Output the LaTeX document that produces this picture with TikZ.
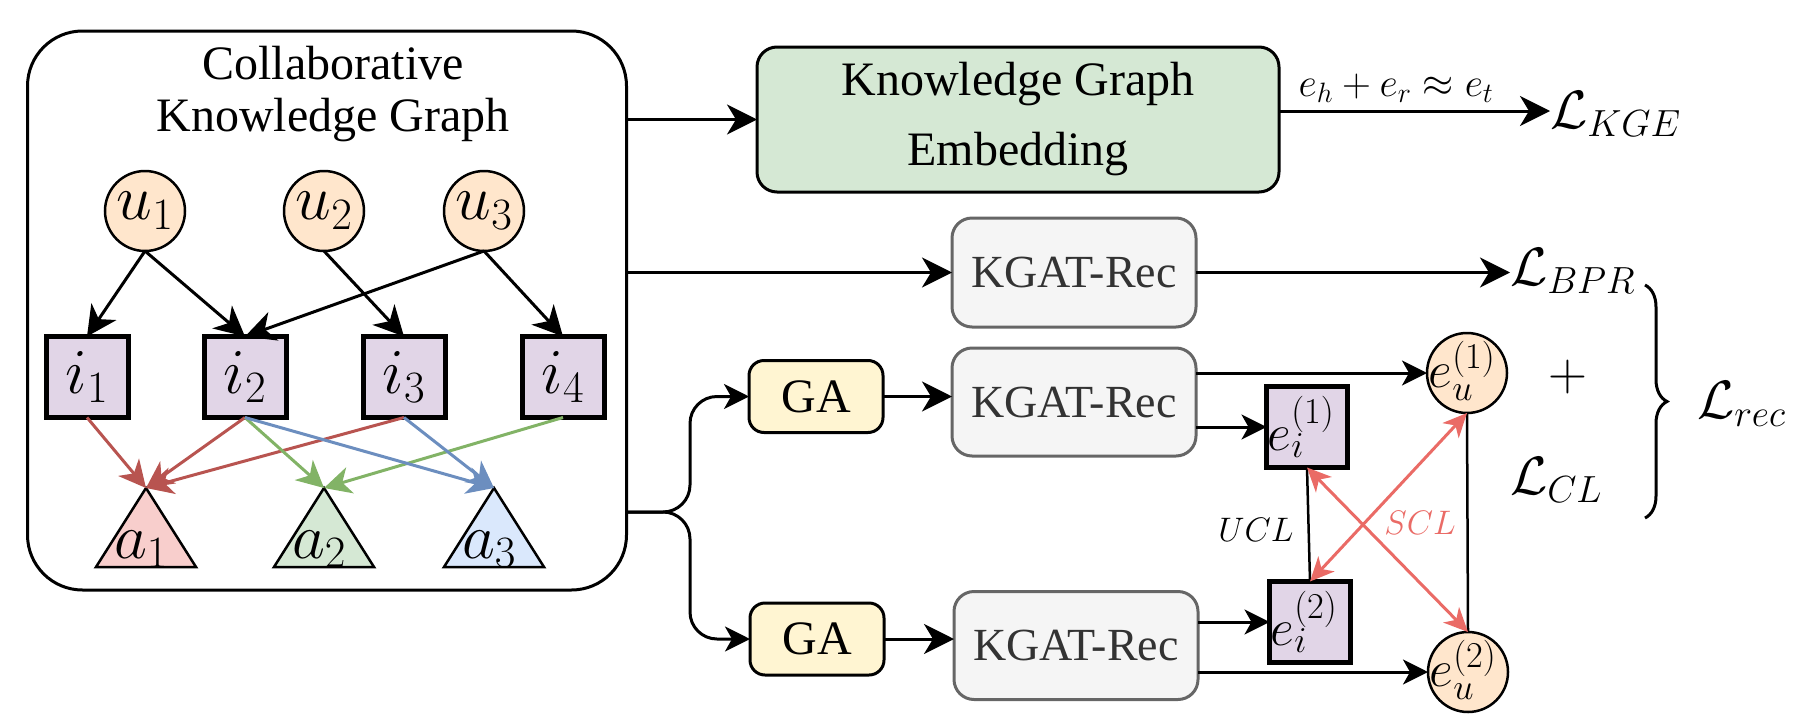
\RequirePackage{fix-cm}
\documentclass[tikz,border=0pt]{standalone}
\usepackage[no-math]{fontspec}
\setmainfont{Liberation Serif}
\usetikzlibrary{arrows.meta,decorations.pathreplacing,calc}
\definecolor{ufill}{HTML}{FFE6CC}
\definecolor{ifill}{HTML}{E1D5E7}
\definecolor{aonefill}{HTML}{F8CECC}
\definecolor{atwofill}{HTML}{D5E8D4}
\definecolor{athreefill}{HTML}{DAE8FC}
\definecolor{kgefill}{HTML}{D5E8D4}
\definecolor{kgatfill}{HTML}{F5F5F5}
\definecolor{kgatdraw}{HTML}{666666}
\definecolor{kgattext}{HTML}{333333}
\definecolor{gafill}{HTML}{FFF5D2}
\definecolor{redc}{HTML}{B85450}
\definecolor{greenc}{HTML}{82B366}
\definecolor{bluec}{HTML}{6C8EBF}
\definecolor{sclc}{HTML}{EA6B66}
\begin{document}
\begin{tikzpicture}[x=1pt,y=-1pt,
  every node/.style={inner sep=0pt,outer sep=0pt},
  arr/.style={line width=3pt,-{Stealth[length=30pt,width=30pt,inset=9pt]}},
  arrs/.style={line width=3pt,-{Stealth[length=25pt,width=25pt,inset=7pt]}},
  carr/.style={line width=3pt,-{Stealth[length=27pt,width=27pt,inset=8pt]}},
  scl/.style={line width=3pt,draw=sclc,{Stealth[length=24pt,width=22pt,inset=7pt]}-{Stealth[length=24pt,width=22pt,inset=7pt]}},
  unode/.style={circle,draw,line width=2.5pt,fill=ufill,minimum size=80pt,font=\fontsize{64}{64}\selectfont},
  inode/.style={draw,line width=5pt,fill=ifill,minimum width=82pt,minimum height=81pt,font=\fontsize{64}{64}\selectfont},
  enode/.style={draw,line width=5pt,fill=ifill,minimum width=81pt,minimum height=81pt},
  eunode/.style={circle,draw,line width=2.5pt,fill=ufill,minimum size=80pt},
  elbl/.style={font=\fontsize{52}{52}\selectfont},
  tri/.style={draw,line width=2.5pt,line join=miter},
  lbl/.style={font=\fontsize{64}{64}\selectfont,anchor=base},
  gabox/.style={draw,line width=3pt,rounded corners=15pt,fill=gafill,minimum width=134pt,minimum height=72pt,font=\fontsize{48}{48}\selectfont},
  kgatbox/.style={draw=kgatdraw,line width=3pt,rounded corners=20pt,fill=kgatfill,minimum width=244pt,minimum height=108pt,text=kgattext,font=\fontsize{46}{46}\selectfont},
  loss/.style={font=\fontsize{54}{54}\selectfont,anchor=base west}
]
\useasboundingbox (0,0) rectangle (1799,718);

% collaborative knowledge graph
\node[draw,line width=3pt,rounded corners=55pt,minimum width=599pt,minimum height=559pt] (ckg) at (327,310.5) {};
\node[font=\fontsize{48}{52}\selectfont,align=center] (title) at (333,94) {Collaborative\\Knowledge Graph};

\node[unode] (u1) at (145,211) {$u_1$};
\node[unode] (u2) at (324,211) {$u_2$};
\node[unode] (u3) at (484,211) {$u_3$};

\node[inode] (i1) at (87,377) {$i_1$};
\node[inode] (i2) at (245,377) {$i_2$};
\node[inode] (i3) at (404,377) {$i_3$};
\node[inode] (i4) at (563,377) {$i_4$};

\coordinate (a1) at (146,488);
\coordinate (a2) at (324,488);
\coordinate (a3) at (494,488);
\draw[tri,fill=aonefill] (a1) -- ++(50,79) -- ++(-100,0) -- cycle;
\draw[tri,fill=atwofill] (a2) -- ++(50,79) -- ++(-100,0) -- cycle;
\draw[tri,fill=athreefill] (a3) -- ++(50,79) -- ++(-100,0) -- cycle;
\node[lbl] (a1l) at (141,558) {$a_1$};
\node[lbl] (a2l) at (319,558) {$a_2$};
\node[lbl] (a3l) at (489,558) {$a_3$};

\draw[arr] (u1.south) -- (i1.north);
\draw[arr] (u1.south) -- (i2.north);
\draw[arr] (u2.south) -- (i3.north);
\draw[arr] (u3.south) -- (i2.north);
\draw[arr] (u3.south) -- (i4.north);

\draw[carr,draw=redc] (i1.south) -- (a1);
\draw[carr,draw=redc] (i2.south) -- (a1);
\draw[carr,draw=redc] (i3.south) -- (a1);
\draw[carr,draw=greenc] (i2.south) -- (a2);
\draw[carr,draw=greenc] (i4.south) -- (a2);
\draw[carr,draw=bluec] (i2.south) -- (a3);
\draw[carr,draw=bluec] (i3.south) -- (a3);

% KGE branch
\node[draw,line width=3pt,rounded corners=20pt,fill=kgefill,minimum width=522pt,minimum height=145pt,align=center,font=\fontsize{48}{70}\selectfont] (kge) at (1018,119.5) {Knowledge Graph\\Embedding};
\draw[arr] (ckg.east |- kge.west) -- (kge.west);
\node[loss] (lkge) at (1550,128) {$\mathcal{L}_{KGE}$};
\draw[arr] (kge.east |- 0,111) -- (lkge.west |- 0,111);
\node[font=\fontsize{40}{40}\selectfont] (eq) at (1396,88) {$e_h+e_r\approx e_t$};

% KGAT-Rec branch
\node[kgatbox,minimum height=109pt] (kgat1) at (1074,272.5) {KGAT-Rec};
\draw[arr] (ckg.east |- kgat1.west) -- (kgat1.west);
\node[loss] (lbpr) at (1510,285) {$\mathcal{L}_{BPR}$};
\draw[arr] (kgat1.east) -- (kgat1.east -| lbpr.west);

% augmented branches
\node[gabox] (ga1) at (816,396.5) {GA};
\node[gabox] (ga2) at (817,639) {GA};
\node[kgatbox] (kgat2) at (1074,402) {KGAT-Rec};
\node[kgatbox] (kgat3) at (1076,645.5) {KGAT-Rec};
\coordinate (fork) at (ckg.east |- 0,512);
\draw[arrs,rounded corners=27pt] (fork) -- (690,512) |- (ga1.west);
\draw[arrs,rounded corners=27pt] (fork) -- (690,512) |- (ga2.west);
\draw[arr] (ga1.east) -- (ga1.east -| kgat2.west);
\draw[arr] (ga2.east) -- (ga2.east -| kgat3.west);

\node[enode] (ei1) at (1307,427) {};
\node[enode] (ei2) at (1310,622) {};
\node[eunode] (eu1) at (1467,373) {};
\node[eunode] (eu2) at (1468,672) {};
\node[elbl] (ei1l) at ([xshift=-6pt]ei1.center) {$e_i^{(1)}$};
\node[elbl] (ei2l) at ([xshift=-6pt]ei2.center) {$e_i^{(2)}$};
\node[elbl] (eu1l) at ([xshift=-5pt,yshift=2pt]eu1.center) {$e_u^{(1)}$};
\node[elbl] (eu2l) at ([xshift=-5pt,yshift=2pt]eu2.center) {$e_u^{(2)}$};

\draw[arrs] (kgat2.east |- eu1.west) -- (eu1.west);
\draw[arrs] (kgat2.east |- ei1.west) -- (ei1.west);
\draw[arrs] (kgat3.east |- ei2.west) -- (ei2.west);
\draw[arrs] (kgat3.east |- eu2.west) -- (eu2.west);

\draw[line width=2.5pt] (ei1.south) -- (ei2.north);
\draw[line width=2.5pt] (eu1.south) -- (eu2.north);
\draw[scl] (ei1.south) -- (eu2.north);
\draw[scl] (eu1.south) -- (ei2.north);
\node[font=\fontsize{34}{34}\selectfont] (ucl) at (1256,530) {$UCL$};
\node[font=\fontsize{34}{34}\selectfont,text=sclc] (sclt) at (1420,523) {$SCL$};

% losses
\node[font=\fontsize{54}{54}\selectfont] (plus) at (1568,377) {$+$};
\node[loss] (lcl) at (1510,494) {$\mathcal{L}_{CL}$};
\node[loss] (lrec) at (1697,418) {$\mathcal{L}_{rec}$};
\coordinate (bt) at (1645,285);
\coordinate (bb) at (1645,518);
\draw[line width=3pt,decorate,decoration={brace,amplitude=22pt}] (bt) -- (bb);
\end{tikzpicture}
\end{document}
